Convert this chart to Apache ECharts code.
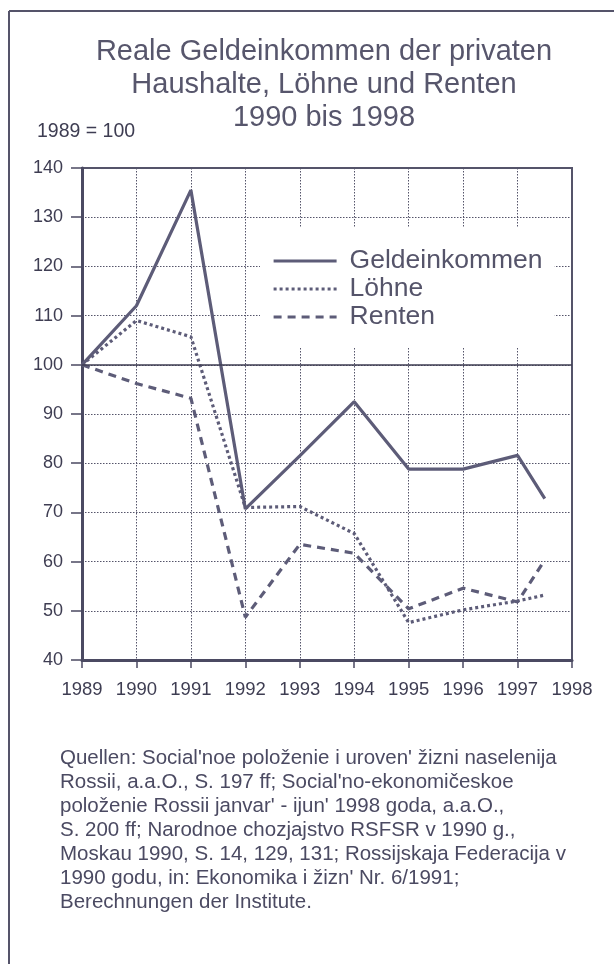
<!DOCTYPE html>
<html><head><meta charset="utf-8">
<script src="https://cdn.jsdelivr.net/npm/echarts@6/dist/echarts.min.js"></script>
<style>html,body{margin:0;padding:0;background:#fff}#c{width:614px;height:964px}</style>
</head><body><div id="c"></div>
<script>
const years = [1989, 1990, 1991, 1992, 1993, 1994, 1995, 1996, 1997, 1997.5];
const geldeinkommen = [100, 112, 135.5, 70.7, 81.5, 92.5, 78.8, 78.8, 81.6, 72.8];
const loehne = [100, 109, 105.7, 71, 71.2, 65.7, 47.6, 50.2, 52, 53.2];
const renten = [100, 96.2, 93.2, 48.7, 63.5, 61.7, 50.4, 54.6, 51.8, 60.3];
const seriesNames = ['Geldeinkommen', 'Löhne', 'Renten'];
const titleLines = ['Reale Geldeinkommen der privaten', 'Haushalte, Löhne und Renten', '1990 bis 1998'];
const unitLabel = '1989 = 100';
const sourceLines = [
  "Quellen: Social'noe položenie i uroven' žizni naselenija",
  "Rossii, a.a.O., S. 197 ff; Social'no-ekonomičeskoe",
  "položenie Rossii janvar' - ijun' 1998 goda, a.a.O.,",
  "S. 200 ff; Narodnoe chozjajstvo RSFSR v 1990 g.,",
  "Moskau 1990, S. 14, 129, 131; Rossijskaja Federacija v",
  "1990 godu, in: Ekonomika i žizn' Nr. 6/1991;",
  "Berechnungen der Institute."
];

const ink = '#4b4a62';
const lineCol = '#5d5c78';
const font = 'Liberation Sans, Arial, sans-serif';
const pair = arr => years.map((y, i) => [y, arr[i]]);

const chart = echarts.init(document.getElementById('c'), null, {renderer: 'canvas'});
chart.setOption({
  backgroundColor: '#fff',
  animation: false,
  textStyle: {fontFamily: font},
  title: {
    text: titleLines.join('\n'),
    left: 319, textAlign: 'center', top: 30,
    textStyle: {fontFamily: font, fontSize: 29, fontWeight: 'normal', color: '#57566c', lineHeight: 33}
  },
  grid: {left: 82, right: 42, top: 168, bottom: 304, show: true, borderColor: '#55546a', borderWidth: 2, backgroundColor: 'transparent'},
  legend: {
    orient: 'vertical', left: 260, top: 227,
    padding: [20, 12, 17, 12], itemGap: 0, itemWidth: 63, itemHeight: 14,
    backgroundColor: '#fff',
    itemStyle: {opacity: 0},
    lineStyle: {width: 3.2},
    textStyle: {fontFamily: font, fontSize: 26.5, color: '#55546a', lineHeight: 28, padding: [0, 0, 0, 8]},
    data: seriesNames
  },
  xAxis: {
    type: 'value', min: 1989, max: 1998, interval: 1,
    axisLine: {show: true, onZero: false, lineStyle: {color: '#4b4a62', width: 3}},
    axisTick: {show: true, length: 8, lineStyle: {color: '#4b4a62', width: 1.5}},
    axisLabel: {fontFamily: font, fontSize: 18.5, color: '#3e3d52', margin: 20, formatter: v => String(v)},
    splitLine: {show: true, lineStyle: {color: '#55546a', width: 1, type: [1.5, 1.5]}}
  },
  yAxis: {
    type: 'value', min: 40, max: 140, interval: 10,
    axisLine: {show: true, lineStyle: {color: '#4b4a62', width: 3}},
    axisTick: {show: true, length: 11, lineStyle: {color: '#4b4a62', width: 1.5}},
    axisLabel: {fontFamily: font, fontSize: 18, color: '#3e3d52', margin: 19},
    splitLine: {show: true, lineStyle: {color: '#55546a', width: 1, type: [1.5, 1.5]}}
  },
  series: [
    {name: seriesNames[0], type: 'line', data: pair(geldeinkommen), symbol: 'none', z: 3,
      lineStyle: {color: lineCol, width: 3.2, type: 'solid'}, itemStyle: {color: lineCol},
      markLine: {silent: true, symbol: 'none', label: {show: false}, animation: false,
        lineStyle: {color: '#3e3d52', width: 1.6, type: 'solid'}, data: [{yAxis: 100}]}},
    {name: seriesNames[1], type: 'line', data: pair(loehne), symbol: 'none', z: 3,
      lineStyle: {color: lineCol, width: 3.2, type: [3, 3]}, itemStyle: {color: lineCol}},
    {name: seriesNames[2], type: 'line', data: pair(renten), symbol: 'none', z: 3,
      lineStyle: {color: lineCol, width: 3.2, type: [8, 6]}, itemStyle: {color: lineCol}}
  ],
  graphic: [
    {type: 'line', shape: {x1: 9, y1: 11, x2: 614, y2: 11}, style: {stroke: '#55546a', lineWidth: 2}},
    {type: 'line', shape: {x1: 9, y1: 11, x2: 9, y2: 964}, style: {stroke: '#55546a', lineWidth: 2}},
    {type: 'text', left: 37, top: 122, style: {text: unitLabel, font: '19.5px ' + font, fill: '#3e3d52'}},
    {type: 'text', left: 60, top: 746, style: {text: sourceLines.join('\n'), font: '20.5px ' + font, fill: ink, lineHeight: 24}}
  ]
});
</script></body></html>
